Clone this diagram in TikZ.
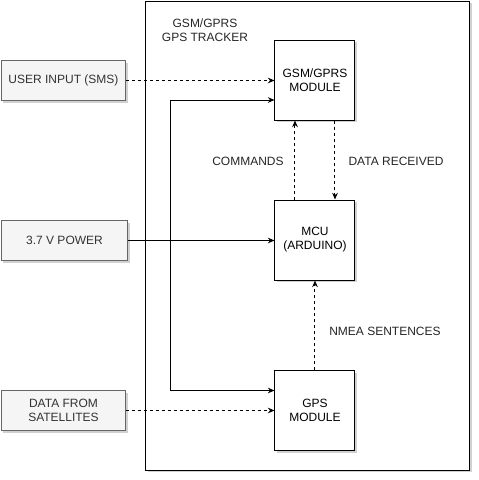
\documentclass[tikz,border=0pt]{standalone}
\usepackage{fontspec}
\setmainfont{Liberation Sans}
\usetikzlibrary{arrows.meta,shadows}
\begin{document}
\begin{tikzpicture}[x=0.75pt,y=-0.75pt,
  font=\fontsize{9pt}{10.5pt}\selectfont,
  line width=0.75pt,
  shad/.style={drop shadow={shadow xshift=1.8pt,shadow yshift=-1.8pt,fill=black,opacity=0.18}},
  inbox/.style={draw=black!60,fill=black!4,text=black!80,minimum height=30pt,align=center,inner sep=1pt,shad},
  modbox/.style={draw=black,fill=white,minimum width=60pt,minimum height=60pt,align=center,inner sep=1pt,shad},
  arr/.style={-{Stealth[length=5pt,width=4.2pt]}},
  darr/.style={arr,dash pattern=on 2.25pt off 2.25pt},
  lbl/.style={text=black!85,align=center,inner sep=0pt}]
\useasboundingbox (0,0) rectangle (479,480);
\node[draw=black,fill=white,minimum width=243pt,minimum height=351.75pt,inner sep=0pt,shad] (frame) at (308,235.5) {};
\node[lbl] (title) at (205,30.5) {GSM/GPRS\\GPS TRACKER};
\node[modbox] (gsm) at (315,80) {GSM/GPRS\\MODULE};
\node[modbox] (mcu) at (315,240) {MCU\\(ARDUINO)};
\node[modbox] (gps) at (315,410.5) {GPS\\MODULE};
\node[inbox,minimum width=93.75pt] (user) at (63.5,80.5) {USER INPUT (SMS)};
\node[inbox,minimum width=95.25pt] (power) at (64.5,240.5) {3.7 V POWER};
\node[inbox,minimum width=93.75pt] (sat) at (63.5,410.5) {DATA FROM\\SATELLITES};
\coordinate (tj) at (171,240.5);
\draw[darr] (user.east) -- (gsm.west |- user.east);
\draw[arr] (power.east) -- (mcu.west |- power.east);
\draw[arr] (tj) |- ([yshift=-15pt]gsm.west);
\draw[arr] (tj) |- ([yshift=15pt]gps.west);
\draw[darr] (sat.east) -- (gps.west |- sat.east);
\draw[darr] ([xshift=-15pt]mcu.north) -- ([xshift=-15pt]gsm.south);
\draw[darr] ([xshift=15pt]gsm.south) -- ([xshift=15pt]mcu.north);
\draw[darr] (gps.north) -- (mcu.south);
\node[lbl] (cmd) at (248,161) {COMMANDS};
\node[lbl] (drx) at (396,161) {DATA RECEIVED};
\node[lbl] (nmea) at (385,331) {NMEA SENTENCES};
\end{tikzpicture}
\end{document}
